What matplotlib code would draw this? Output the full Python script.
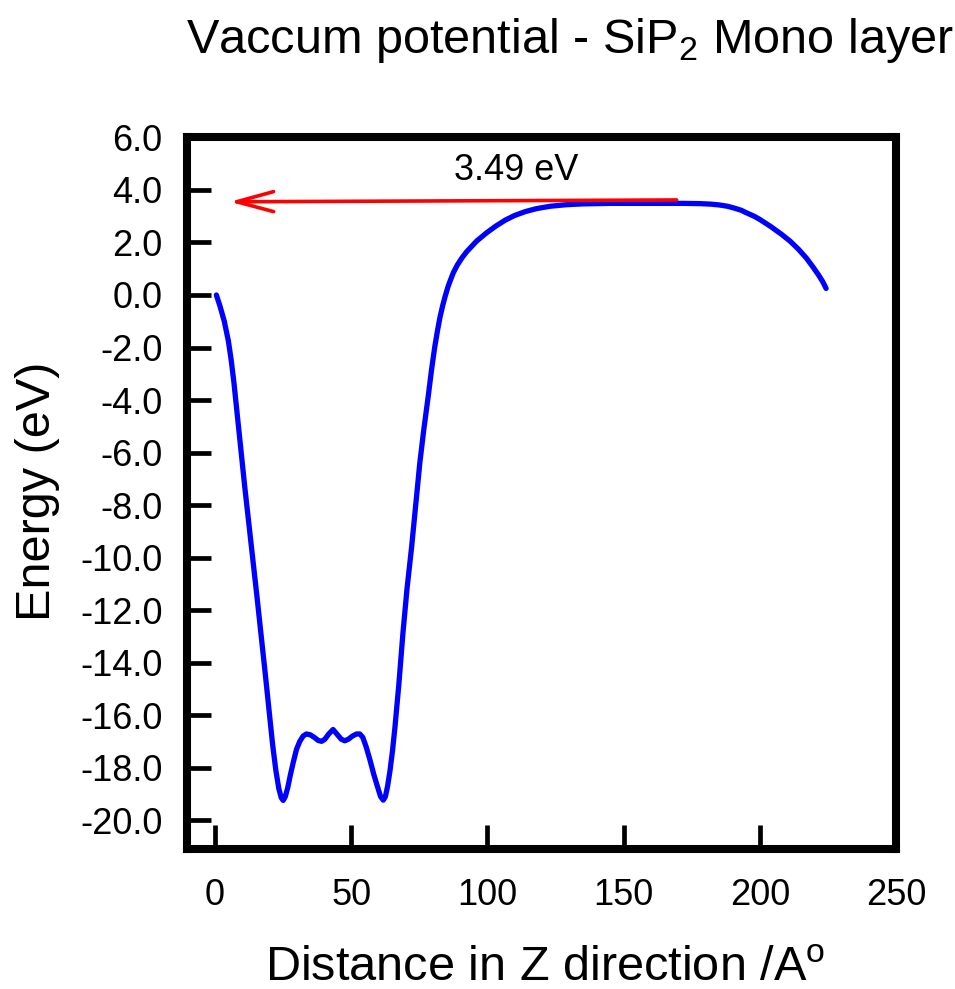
import matplotlib
matplotlib.use("Agg")
import matplotlib.pyplot as plt

plt.rcParams['font.family'] = ['Liberation Sans', 'DejaVu Sans']
plt.rcParams['mathtext.fontset'] = 'custom'
plt.rcParams['mathtext.rm'] = 'Liberation Sans'
plt.rcParams['mathtext.it'] = 'Liberation Sans:italic'
plt.rcParams['axes.unicode_minus'] = False

# Data
distance = [0.6, 2.0, 3.5, 5.0, 6.0, 7.0, 8.0, 9.5, 11.0, 12.5, 14.0, 15.5, 17.0, 18.5,
            20.0, 21.2, 22.4, 23.5, 24.4, 25.1, 25.9, 26.8, 27.8, 28.8, 30.0, 31.2,
            32.4, 33.6, 35.0, 36.5, 38.0, 39.2, 40.4, 41.8, 43.4, 45.0, 46.4, 47.7,
            49.0, 50.5, 52.0, 53.2, 54.3, 55.5, 56.9, 58.3, 59.6, 60.8, 61.8, 62.6,
            63.4, 64.3, 65.2, 66.1, 67.5, 69.0, 70.5, 72.2, 73.7, 75.2, 76.7, 78.3,
            79.5, 80.7, 81.7, 82.6, 83.6, 84.5, 85.5, 86.2, 87.5, 89.0, 90.7, 92.4,
            96.0, 99.7, 103.0, 106.5, 110.0, 114.0, 118.0, 123.0, 129.0, 135.0,
            145.0, 155.0, 165.0, 172.0, 178.0, 182.0, 185.0, 188.0, 190.2, 193.0,
            195.0, 198.0, 200.0, 204.0, 208.0, 211.0, 214.0, 217.0, 219.5, 221.5,
            223.0, 224.2]
energy = [0.0, -0.45, -1.0, -1.75, -2.45, -3.3, -4.3, -5.8, -7.3, -8.7, -10.1, -11.5,
          -12.95, -14.4, -15.9, -17.1, -18.1, -18.8, -19.15, -19.25, -19.1, -18.75,
          -18.25, -17.8, -17.3, -17.0, -16.8, -16.72, -16.75, -16.85, -16.97, -17.0,
          -16.92, -16.72, -16.55, -16.75, -16.92, -16.98, -16.92, -16.8, -16.72,
          -16.72, -16.85, -17.2, -17.7, -18.25, -18.7, -19.1, -19.24, -19.1, -18.7,
          -18.1, -17.35, -16.45, -14.85, -12.9, -11.2, -9.6, -8.0, -6.4, -5.1, -3.85,
          -2.85, -1.97, -1.35, -0.85, -0.4, -0.05, 0.3, 0.5, 0.85, 1.15, 1.42, 1.65,
          2.05, 2.37, 2.62, 2.85, 3.03, 3.18, 3.29, 3.38, 3.44, 3.47, 3.49, 3.49, 3.49,
          3.49, 3.48, 3.46, 3.43, 3.38, 3.32, 3.23, 3.13, 2.99, 2.87, 2.6, 2.3, 2.05,
          1.75, 1.4, 1.05, 0.75, 0.5, 0.25]

x_ticks = [0, 50, 100, 150, 200, 250]
y_ticks = [-20, -18, -16, -14, -12, -10, -8, -6, -4, -2, 0, 2, 4, 6]

arrow_tail = (169.4, 3.62)
arrow_head = (5.5, 3.55)
gap_label = "3.49 eV"
gap_label_pos = (110.5, 4.38)

fig = plt.figure(figsize=(9.55, 9.89), dpi=100)
ax = fig.add_axes([0.1963, 0.1416, 0.7424, 0.7194])

ax.plot(distance, energy, color='#0000FF', lw=3.8, solid_capstyle='round',
        solid_joinstyle='round')

ax.annotate('', xy=arrow_head, xytext=arrow_tail,
            arrowprops=dict(arrowstyle='->,head_length=2.66,head_width=0.72',
                            color='#FF0000', lw=2.6, mutation_scale=10,
                            shrinkA=0, shrinkB=0))
ax.text(gap_label_pos[0], gap_label_pos[1], gap_label, ha='center', va='baseline',
        fontsize=26)

ax.set_xlim(-10, 250)
ax.set_ylim(-21.1, 6)
ax.set_xticks(x_ticks)
ax.set_yticks(y_ticks)
ax.set_yticklabels([f"{v:.1f}" for v in y_ticks])
ax.tick_params(axis='both', direction='in', length=17, width=3.4, labelsize=26,
               top=False, right=False)
ax.tick_params(axis='y', pad=18)
ax.tick_params(axis='x', pad=21)
for s in ax.spines.values():
    s.set_linewidth(5.8)

ax.set_xlabel(r"Distance in Z direction /A$^\mathrm{o}$", fontsize=35)
ax.xaxis.label.set_va('baseline')
ax.xaxis.set_label_coords(0.504, -0.185)
ax.set_ylabel("Energy (eV)", fontsize=35)
ax.yaxis.set_label_coords(-0.18, 0.502)

fig.text(570 / 955, 1 - 53 / 989, r"Vaccum potential - SiP$_2$ Mono layer",
         ha='center', va='baseline', fontsize=35)

fig.savefig("out.png", dpi=100)
